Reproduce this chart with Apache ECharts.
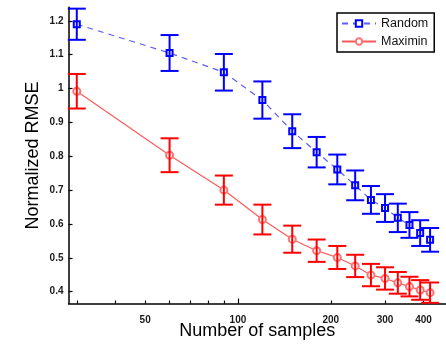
<!DOCTYPE html>
<html>
<head>
<meta charset="utf-8">
<script src="https://cdn.jsdelivr.net/npm/echarts@6/dist/echarts.min.js"></script>
<style>
  html, body { margin: 0; padding: 0; background: #fff; }
  #chart { width: 446px; height: 345px; }
</style>
</head>
<body>
<div id="chart"></div>
<script>
// number of samples (x, log scale)
const samples = [30, 60, 90, 120, 150, 180, 210, 240, 270, 300, 330, 360, 390, 420];
// Random design: mean RMSE and half width of the error bar
const randomMean = [1.19, 1.105, 1.048, 0.966, 0.874, 0.812, 0.761, 0.714, 0.671, 0.647, 0.618, 0.597, 0.573, 0.553];
const randomErr = [0.046, 0.053, 0.054, 0.055, 0.05, 0.045, 0.044, 0.044, 0.041, 0.041, 0.042, 0.038, 0.038, 0.035];
// Maximin design
const maximinMean = [0.992, 0.803, 0.7, 0.613, 0.555, 0.521, 0.501, 0.476, 0.449, 0.439, 0.426, 0.415, 0.405, 0.397];
const maximinErr = [0.051, 0.05, 0.043, 0.044, 0.04, 0.033, 0.034, 0.033, 0.033, 0.033, 0.032, 0.029, 0.029, 0.03];
// axis ticks
const xLabelValues = [50, 100, 200, 300, 400];
const xTickValues = [30, 40, 50, 60, 70, 80, 90, 200, 300, 400];
const xMajorTick = [100];
const yTickValues = [0.4, 0.5, 0.6, 0.7, 0.8, 0.9, 1, 1.1, 1.2];

const FONT = '"Liberation Sans", Arial, sans-serif';
const lg = v => Math.log10(v);

const lineData = means => samples.map((s, i) => [lg(s), means[i]]);
const barData = (means, errs) => samples.map((s, i) => [lg(s), means[i] - errs[i], means[i] + errs[i]]);

// 误差棒：竖线 + 上下两个横帽
const errorBar = color => (params, api) => {
  const x = api.value(0);
  const top = api.coord([x, api.value(2)]);
  const bot = api.coord([x, api.value(1)]);
  const half = 9;
  const style = { stroke: color, lineWidth: 2 };
  return {
    type: 'group',
    children: [
      { type: 'line', shape: { x1: top[0], y1: top[1], x2: bot[0], y2: bot[1] }, style },
      { type: 'line', shape: { x1: top[0] - half, y1: top[1], x2: top[0] + half, y2: top[1] }, style },
      { type: 'line', shape: { x1: bot[0] - half, y1: bot[1], x2: bot[0] + half, y2: bot[1] }, style }
    ]
  };
};

const axisLine = { show: true, lineStyle: { color: '#000', width: 1.5 } };

const option = {
  animation: false,
  backgroundColor: '#fff',
  grid: { left: 68.5, right: 0, top: 7.3, bottom: 41.5, containLabel: false, outerBoundsMode: 'none' },
  legend: {
    orient: 'vertical',
    left: 337,
    top: 13,
    data: ['Random', 'Maximin'],
    itemWidth: 34,
    itemHeight: 8,
    itemGap: 3,
    padding: [3, 6, 3, 4],
    borderColor: '#000',
    borderWidth: 1.5,
    backgroundColor: '#fff',
    textStyle: { fontFamily: FONT, fontSize: 12.5, color: '#111', lineHeight: 15 }
  },
  xAxis: [
    {
      type: 'value',
      min: lg(28.2),
      max: lg(473),
      axisLine,
      splitLine: { show: false },
      axisTick: { inside: true, length: 3, customValues: xTickValues.map(lg), lineStyle: { color: '#000', width: 1.2 } },
      axisLabel: {
        customValues: xLabelValues.map(lg),
        formatter: v => String(Math.round(Math.pow(10, v))),
        margin: 12,
        fontFamily: FONT, fontSize: 10, fontWeight: 'bold', color: '#1a1a1a'
      },
      name: 'Number of samples',
      nameLocation: 'middle',
      nameGap: 19,
      nameMoveOverlap: false,
      nameTextStyle: { fontFamily: FONT, fontSize: 18, color: '#000' }
    },
    {
      // 100 处的长刻度
      type: 'value',
      position: 'bottom',
      min: lg(28.2),
      max: lg(473),
      axisLine: { show: false },
      splitLine: { show: false },
      axisTick: { inside: true, length: 5, customValues: xMajorTick.map(lg), lineStyle: { color: '#000', width: 1.2 } },
      axisLabel: { show: false }
    }
  ],
  yAxis: {
    type: 'value',
    min: 0.365,
    max: 1.24,
    axisLine,
    splitLine: { show: false },
    axisTick: { inside: true, length: 4, customValues: yTickValues, lineStyle: { color: '#000', width: 1.2 } },
    axisLabel: {
      customValues: yTickValues,
      margin: 5,
      fontFamily: FONT, fontSize: 10, fontWeight: 'bold', color: '#1a1a1a'
    },
    name: 'Normalized RMSE',
    nameLocation: 'middle',
    nameGap: 26,
    nameMoveOverlap: false,
    nameTextStyle: { fontFamily: FONT, fontSize: 18, color: '#000' }
  },
  series: [
    {
      name: 'Random',
      type: 'line',
      data: lineData(randomMean),
      symbol: 'emptyRect',
      symbolSize: 6,
      lineStyle: { color: '#5c5cff', width: 1.2, type: [6, 5] },
      itemStyle: { color: '#0000ff', borderColor: '#0000ff', borderWidth: 1.5 },
      z: 3
    },
    {
      name: 'Maximin',
      type: 'line',
      data: lineData(maximinMean),
      symbol: 'emptyCircle',
      symbolSize: 7,
      lineStyle: { color: '#ff5a5a', width: 1.2 },
      itemStyle: { color: '#ff7373', borderColor: '#ff7373', borderWidth: 1.2 },
      z: 3
    },
    {
      name: 'Random error',
      type: 'custom',
      data: barData(randomMean, randomErr),
      renderItem: errorBar('#0000ff'),
      encode: { x: 0, y: [1, 2] },
      z: 4
    },
    {
      name: 'Maximin error',
      type: 'custom',
      data: barData(maximinMean, maximinErr),
      renderItem: errorBar('#ff0000'),
      encode: { x: 0, y: [1, 2] },
      z: 4
    }
  ]
};

const chart = echarts.init(document.getElementById('chart'), null, { renderer: 'canvas' });
chart.setOption(option);
</script>
</body>
</html>
